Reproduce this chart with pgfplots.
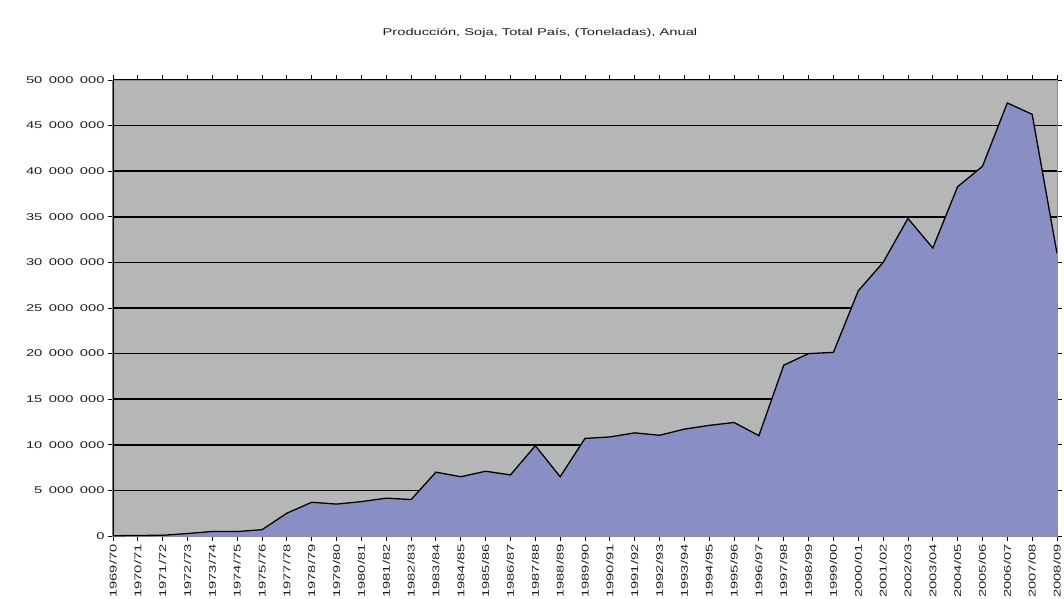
\documentclass[border=0pt]{standalone}
\usepackage{fontspec}
\usepackage{pgfplots}
\usepackage{pgfplotstable}
\pgfplotsset{compat=1.18}
\newfontfamily\chartfont[FakeStretch=1.5]{Liberation Sans}
\newcommand\cf{\chartfont\fontsize{9.8bp}{11bp}\selectfont}
\definecolor{plotbg}{HTML}{B5B7B7}
\definecolor{areafill}{HTML}{898EC5}
\definecolor{framegray}{HTML}{8C9090}
\definecolor{txt}{HTML}{1E1E1E}

\pgfplotstableread{
idx value
0 26800
1 59000
2 78000
3 272000
4 496000
5 485000
6 695000
7 2500000
8 3700000
9 3500000
10 3770000
11 4150000
12 4000000
13 7000000
14 6500000
15 7100000
16 6700000
17 9900000
18 6500000
19 10700000
20 10862000
21 11310000
22 11045000
23 11720000
24 12133000
25 12448000
26 11005000
27 18732000
28 20000000
29 20136000
30 26880000
31 30000000
32 34818000
33 31577000
34 38300000
35 40537000
36 47483000
37 46238000
38 30993000
}\soja

\begin{document}
\begin{tikzpicture}
\useasboundingbox (-113bp,-63bp) rectangle (951bp,536bp);
\begin{axis}[
  at={(0,0)}, anchor=south west,
  scale only axis, width=944bp, height=456bp,
  xmin=0, xmax=38, ymin=0, ymax=50000000,
  xtick={0,...,38},
  xticklabels={1969/70,1970/71,1971/72,1972/73,1973/74,1974/75,1975/76,1977/78,1978/79,1979/80,1980/81,1981/82,1982/83,1983/84,1984/85,1985/86,1986/87,1987/88,1988/89,1989/90,1990/91,1991/92,1992/93,1993/94,1994/95,1995/96,1996/97,1997/98,1998/99,1999/00,2000/01,2001/02,2002/03,2003/04,2004/05,2005/06,2006/07,2007/08,2008/09},
  ytick={0,5000000,10000000,15000000,20000000,25000000,30000000,35000000,40000000,45000000,50000000},
  scaled y ticks=false,
  /pgf/number format/fixed,
  /pgf/number format/precision=0,
  /pgf/number format/1000 sep={\hspace{6.5bp}},
  /pgf/number format/assume math mode=true,
  yticklabel style={font=\cf, text=txt},
  xticklabel style={font=\cf, text=txt, rotate=90, anchor=east},
  tick align=outside,
  major tick length=5bp,
  tick style={black, line width=0.9bp},
  ymajorgrids,
  grid style={black, line width=1.7bp},
  axis background/.style={fill=plotbg},
  axis line style={framegray, line width=1bp},
  title={Producción, Soja, Total País, (Toneladas), Anual},
  title style={at={(axis description cs:0.4523,1.0855)}, anchor=base, font=\cf, text=txt},
]
\addplot[fill=areafill, draw=none] table[x=idx, y=value] {\soja} \closedcycle;
\addplot[black, line width=1.3bp, mark=none] table[x=idx, y=value] {\soja};
\draw[black, line width=1.4bp] (rel axis cs:0,0) -- (rel axis cs:0,1);
\end{axis}
\end{tikzpicture}
\end{document}
